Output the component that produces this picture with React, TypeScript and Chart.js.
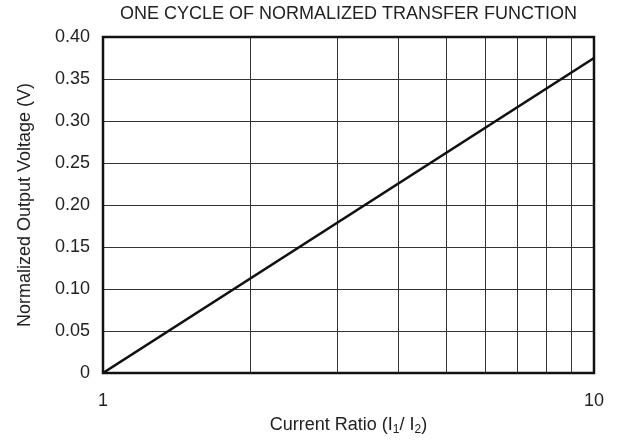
import React, { useEffect, useRef } from "react";
import { Chart, registerables } from "chart.js";

Chart.register(...registerables);

const chartTitle = "ONE CYCLE OF NORMALIZED TRANSFER FUNCTION";
const yAxisTitle = "Normalized Output Voltage (V)";
const currentRatios = [1, 10];
const outputVoltages = [0, 0.375];
const xGridValues = [1, 2, 3, 4, 5, 6, 7, 8, 9, 10];
const xLabelValues = [1, 10];
const yMin = 0;
const yMax = 0.4;
const yStep = 0.05;

const FONT = "'Liberation Sans', Arial, sans-serif";
const TEXT = "#222";
const FS = 18;

const decorPlugin = {
  id: "decor",
  afterDraw(chart: any) {
    const { ctx, chartArea } = chart;
    const { left, right, top, bottom } = chartArea;
    const cx = (left + right) / 2;
    ctx.save();
    // frame
    ctx.strokeStyle = "#111";
    ctx.lineWidth = 2.5;
    ctx.strokeRect(left, top, right - left, bottom - top);
    // title
    ctx.fillStyle = TEXT;
    ctx.font = `${FS}px ${FONT}`;
    ctx.textAlign = "center";
    ctx.textBaseline = "middle";
    ctx.fillText(chartTitle, cx, 14);
    // y title
    ctx.save();
    ctx.translate(25, (top + bottom) / 2);
    ctx.rotate(-Math.PI / 2);
    ctx.fillText(yAxisTitle, 0, 0);
    ctx.restore();
    // x title with subscripts
    const parts: [string, boolean][] = [
      ["Current Ratio (I", false],
      ["1", true],
      ["/ I", false],
      ["2", true],
      [")", false],
    ];
    const big = `${FS}px ${FONT}`;
    const small = `12px ${FONT}`;
    let total = 0;
    for (const [t, sub] of parts) {
      ctx.font = sub ? small : big;
      total += ctx.measureText(t).width;
    }
    let x = cx - total / 2;
    const y = 425;
    ctx.textAlign = "left";
    ctx.textBaseline = "middle";
    for (const [t, sub] of parts) {
      ctx.font = sub ? small : big;
      ctx.fillText(t, x, sub ? y + 5 : y);
      x += ctx.measureText(t).width;
    }
    ctx.restore();
  },
};

export default function App() {
  const ref = useRef<HTMLCanvasElement | null>(null);
  useEffect(() => {
    if (!ref.current) return;
    const chart = new Chart(ref.current, {
      type: "line",
      data: {
        datasets: [
          {
            data: currentRatios.map((r, i) => ({ x: r, y: outputVoltages[i] })),
            borderColor: "#111",
            borderWidth: 2.5,
            pointRadius: 0,
            fill: false,
            tension: 0,
          },
        ],
      },
      options: {
        animation: false,
        responsive: false,
        layout: { padding: { top: 37, right: 24, left: 0, bottom: 0 } },
        plugins: { legend: { display: false }, title: { display: false }, tooltip: { enabled: false } },
        scales: {
          x: {
            type: "logarithmic",
            min: 1,
            max: 10,
            border: { display: false },
            grid: { color: "#333", lineWidth: 1, drawTicks: false },
            afterBuildTicks: (s: any) => {
              s.ticks = xGridValues.map((v) => ({ value: v }));
            },
            ticks: {
              autoSkip: false,
              maxRotation: 0,
              padding: 17,
              color: TEXT,
              font: { family: FONT, size: FS },
              callback: (v: any) => (xLabelValues.includes(Number(v)) ? String(v) : ""),
            },
            afterFit: (s: any) => {
              s.height = 70;
            },
          },
          y: {
            type: "linear",
            min: yMin,
            max: yMax,
            border: { display: false },
            grid: { color: "#333", lineWidth: 1, drawTicks: false },
            ticks: {
              stepSize: yStep,
              padding: 13,
              color: TEXT,
              font: { family: FONT, size: FS },
              callback: (v: any) => (Number(v) === 0 ? "0" : Number(v).toFixed(2)),
            },
            afterFit: (s: any) => {
              s.width = 103;
            },
          },
        },
      },
      plugins: [decorPlugin],
    });
    return () => chart.destroy();
  }, []);
  return (
    <div style={{ position: "absolute", left: 0, top: 0, width: 621, height: 443 }}>
      <canvas ref={ref} width={621} height={443} style={{ display: "block" }} />
    </div>
  );
}
